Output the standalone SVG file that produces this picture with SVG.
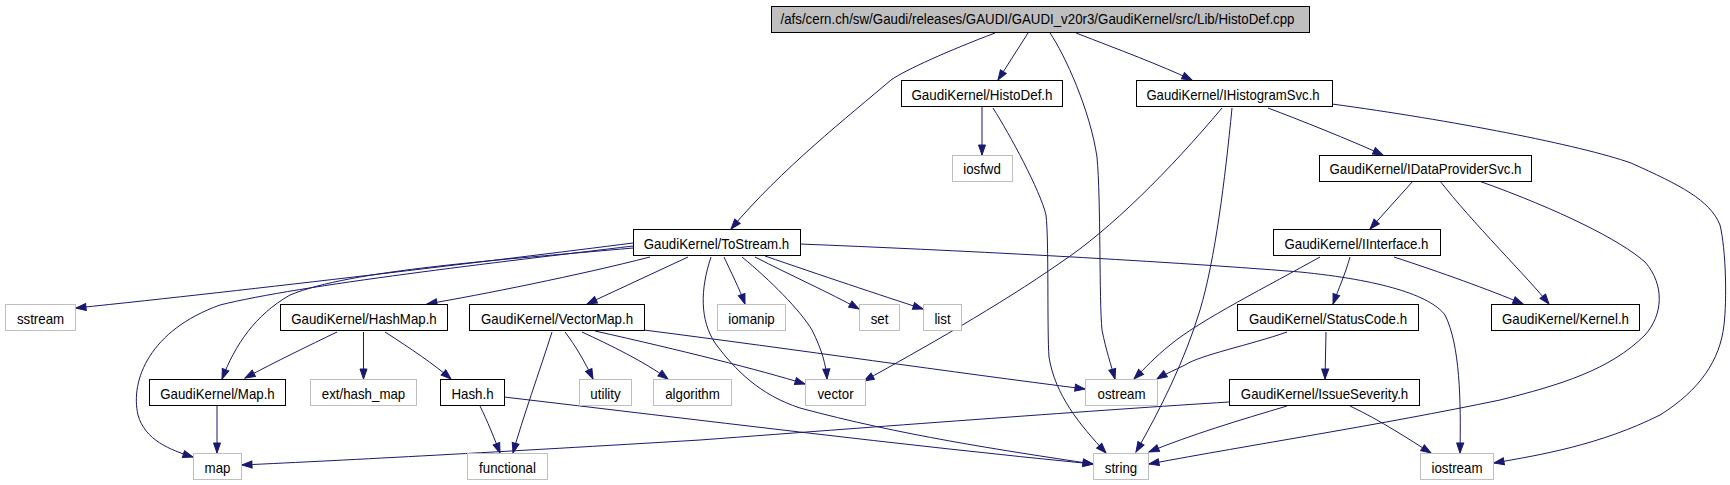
<svg xmlns="http://www.w3.org/2000/svg" width="1730" height="485" viewBox="0 0 1730 485">
<style>
text{font-family:"Liberation Sans",Arial,sans-serif;font-size:14px;fill:#000;text-anchor:middle}
.n rect{fill:#fff;stroke:#000;stroke-width:1}
.x rect{fill:#fff;stroke:#bfbfbf;stroke-width:1}
.r rect{fill:#bfbfbf;stroke:#000;stroke-width:1}
#edges path{fill:none;stroke:#191970;stroke-width:1;marker-end:url(#ah)}
</style>
<defs>
<marker id="ah" markerUnits="userSpaceOnUse" markerWidth="11" markerHeight="9" refX="10" refY="3.5" orient="auto" overflow="visible">
<path d="M0,0 L10,3.5 L0,7 Z" fill="#191970" stroke="#191970" stroke-width="1"/>
</marker>
</defs>
<rect width="1730" height="485" fill="#fff"/>
<g id="edges">
<path d="M995,33 C950,50 905,70 891,80 C850,115 780,170 731,229"/>
<path d="M1028,33 L998,80"/>
<path d="M1050,33 C1065,55 1090,110 1097,157 C1101,200 1099,300 1102,330 C1106,350 1111,365 1115,379"/>
<path d="M1076,33 C1120,50 1160,65 1192,80"/>
<path d="M982,107 L982,155"/>
<path d="M993,108 C1010,135 1040,190 1046,215 C1049,240 1047,330 1049,357 C1055,395 1080,425 1106,453"/>
<path d="M1222,108 C1170,170 1110,230 1060,263 C1000,305 920,350 864,381"/>
<path d="M1232,108 C1225,180 1215,260 1200,310 C1185,360 1160,410 1136,452"/>
<path d="M1268,108 C1300,120 1350,140 1383,155"/>
<path d="M1332,104 C1450,120 1580,145 1631,163 C1680,185 1710,200 1720,225 C1726,250 1727,300 1724,325 C1720,360 1700,390 1660,415 C1600,445 1540,455 1494,463"/>
<path d="M1413,181 L1370,229"/>
<path d="M1440,181 C1470,220 1530,280 1549,304"/>
<path d="M1479,181 C1560,210 1620,240 1645,262 C1665,285 1663,315 1645,335 C1610,370 1560,385 1500,400 C1380,425 1250,445 1149,464"/>
<path d="M1394,257 C1440,272 1490,290 1523,304"/>
<path d="M1350,257 C1345,275 1338,290 1333,304"/>
<path d="M1320,257 C1270,285 1200,320 1170,345 C1155,357 1145,368 1134,379"/>
<path d="M1287,332 C1250,345 1200,355 1185,365 C1175,370 1165,374 1157,379"/>
<path d="M1326,332 L1325,379"/>
<path d="M1229,402 C1100,410 900,425 700,440 C500,452 350,460 242,465"/>
<path d="M1287,406 C1240,420 1190,435 1149,452"/>
<path d="M1350,406 C1380,420 1410,440 1431,453"/>
<path d="M800,244 C950,250 1150,260 1300,272 C1380,280 1430,295 1445,315 C1460,345 1461,400 1460,453"/>
<path d="M633,243 C500,260 250,290 76,308"/>
<path d="M633,246 C500,262 300,285 220,305 C150,330 130,380 138,415 C145,440 170,450 193,457"/>
<path d="M633,248 C500,260 350,270 290,295 C255,315 235,345 222,379"/>
<path d="M650,257 C580,275 480,295 427,304"/>
<path d="M688,257 L587,304"/>
<path d="M724,257 C730,270 740,290 745,304"/>
<path d="M755,257 C790,275 830,293 859,309"/>
<path d="M765,256 C820,275 880,295 923,309"/>
<path d="M742,257 C770,280 800,310 812,330 C822,350 826,365 827,379"/>
<path d="M711,257 C700,290 700,320 715,343 C735,370 760,395 800,408 C900,435 1000,450 1093,464"/>
<path d="M644,330 C800,350 950,372 1085,389"/>
<path d="M595,331 C680,350 760,370 805,384"/>
<path d="M582,332 C610,345 645,362 668,379"/>
<path d="M565,332 C575,345 585,362 593,379"/>
<path d="M552,332 C540,370 522,420 513,453"/>
<path d="M337,332 C310,345 275,362 245,378"/>
<path d="M363.5,332 L363.5,379"/>
<path d="M385,332 C410,348 435,365 451,379"/>
<path d="M217,405 L217,453"/>
<path d="M480,406 C487,420 495,440 500,453"/>
<path d="M504,397 C700,420 900,445 1093,464"/>
</g>
<g id="root" class="r"><rect x="771.5" y="6.5" width="538" height="26"/><text x="1037.5" y="24" textLength="514" lengthAdjust="spacingAndGlyphs">/afs/cern.ch/sw/Gaudi/releases/GAUDI/GAUDI_v20r3/GaudiKernel/src/Lib/HistoDef.cpp</text></g>
<g id="HistoDef" class="n"><rect x="901.5" y="80.5" width="161" height="26"/><text transform="translate(982,99.5) scale(0.96,1)">GaudiKernel/HistoDef.h</text></g>
<g id="IHistogramSvc" class="n"><rect x="1136.5" y="80.5" width="196" height="26"/><text transform="translate(1233,99.5) scale(0.94,1)">GaudiKernel/IHistogramSvc.h</text></g>
<g id="iosfwd" class="x"><rect x="952.5" y="155.5" width="60" height="26"/><text transform="translate(982,174) scale(0.95,1)">iosfwd</text></g>
<g id="IDataProviderSvc" class="n"><rect x="1319.5" y="155.5" width="212" height="26"/><text transform="translate(1425.5,174) scale(0.95,1)">GaudiKernel/IDataProviderSvc.h</text></g>
<g id="ToStream" class="n"><rect x="633.5" y="229.5" width="167" height="26"/><text transform="translate(716.5,248.5) scale(0.95,1)">GaudiKernel/ToStream.h</text></g>
<g id="IInterface" class="n"><rect x="1273.5" y="229.5" width="167" height="26"/><text transform="translate(1356.5,248.5) scale(0.95,1)">GaudiKernel/IInterface.h</text></g>
<g id="sstream" class="x"><rect x="5.5" y="304.5" width="70" height="26"/><text transform="translate(40.5,323.5) scale(0.95,1)">sstream</text></g>
<g id="HashMap" class="n"><rect x="280.5" y="304.5" width="167" height="26"/><text transform="translate(364,323.5) scale(0.95,1)">GaudiKernel/HashMap.h</text></g>
<g id="VectorMap" class="n"><rect x="469.5" y="304.5" width="175" height="26"/><text transform="translate(557,323.5) scale(0.95,1)">GaudiKernel/VectorMap.h</text></g>
<g id="iomanip" class="x"><rect x="717.5" y="304.5" width="68" height="26"/><text transform="translate(751.5,323.5) scale(0.95,1)">iomanip</text></g>
<g id="set" class="x"><rect x="859.5" y="304.5" width="40" height="26"/><text transform="translate(879.5,323.5) scale(0.95,1)">set</text></g>
<g id="list" class="x"><rect x="923.5" y="304.5" width="38" height="26"/><text transform="translate(942.5,323.5) scale(0.95,1)">list</text></g>
<g id="StatusCode" class="n"><rect x="1237.5" y="304.5" width="181" height="26"/><text transform="translate(1328,323.5) scale(0.95,1)">GaudiKernel/StatusCode.h</text></g>
<g id="Kernel" class="n"><rect x="1491.5" y="304.5" width="148" height="26"/><text transform="translate(1565.5,323.5) scale(0.95,1)">GaudiKernel/Kernel.h</text></g>
<g id="MapH" class="n"><rect x="149.5" y="379.5" width="136" height="26"/><text transform="translate(217.5,398.5) scale(0.95,1)">GaudiKernel/Map.h</text></g>
<g id="ext_hash_map" class="x"><rect x="310.5" y="379.5" width="106" height="26"/><text transform="translate(363.5,398.5) scale(0.95,1)">ext/hash_map</text></g>
<g id="HashH" class="n"><rect x="440.5" y="379.5" width="64" height="26"/><text transform="translate(472.5,398.5) scale(0.95,1)">Hash.h</text></g>
<g id="utility" class="x"><rect x="579.5" y="379.5" width="52" height="26"/><text transform="translate(605.5,398.5) scale(0.95,1)">utility</text></g>
<g id="algorithm" class="x"><rect x="653.5" y="379.5" width="78" height="26"/><text transform="translate(692.5,398.5) scale(0.95,1)">algorithm</text></g>
<g id="vector" class="x"><rect x="805.5" y="379.5" width="60" height="26"/><text transform="translate(835.5,398.5) scale(0.95,1)">vector</text></g>
<g id="ostream" class="x"><rect x="1085.5" y="379.5" width="72" height="26"/><text transform="translate(1121.5,398.5) scale(0.95,1)">ostream</text></g>
<g id="IssueSeverity" class="n"><rect x="1229.5" y="379.5" width="190" height="26"/><text transform="translate(1324.5,398.5) scale(0.95,1)">GaudiKernel/IssueSeverity.h</text></g>
<g id="map" class="x"><rect x="193.5" y="453.5" width="48" height="26"/><text transform="translate(217.5,472.5) scale(0.95,1)">map</text></g>
<g id="functional" class="x"><rect x="467.5" y="453.5" width="80" height="26"/><text transform="translate(507.5,472.5) scale(0.95,1)">functional</text></g>
<g id="string" class="x"><rect x="1093.5" y="453.5" width="55" height="26"/><text transform="translate(1121,472.5) scale(0.95,1)">string</text></g>
<g id="iostream" class="x"><rect x="1420.5" y="453.5" width="73" height="26"/><text transform="translate(1457,472.5) scale(0.95,1)">iostream</text></g>
</svg>
